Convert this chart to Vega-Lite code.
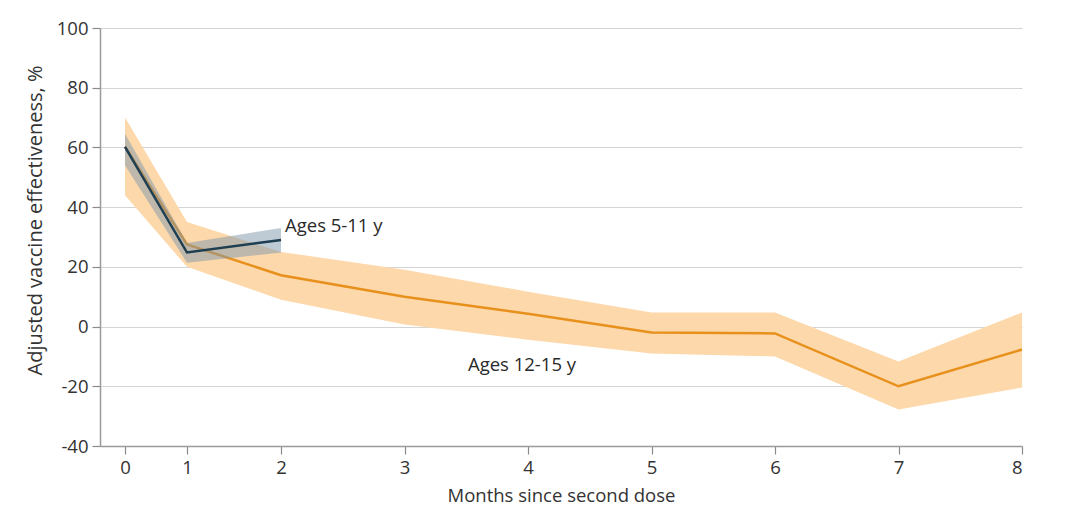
{
  "$schema": "https://vega.github.io/schema/vega-lite/v6.json",
  "autosize": "none",
  "width": 922,
  "height": 418,
  "padding": {"left": 100, "top": 28, "right": 58, "bottom": 69},
  "background": "white",
  "config": {
    "view": {"stroke": null},
    "font": "Open Sans",
    "axis": {
      "labelFont": "Open Sans",
      "titleFont": "Open Sans",
      "labelFontSize": 18.5,
      "titleFontSize": 18.5,
      "labelColor": "#333333",
      "titleColor": "#333333",
      "titleFontWeight": "normal",
      "domainColor": "#9a9a9a",
      "domainWidth": 1.5,
      "tickColor": "#8a8a8a",
      "tickSize": 8,
      "tickWidth": 1.2
    }
  },
  "data": {
    "values": [
      {"group": "Ages 12-15 y", "month": 0, "ve": 60.3, "lower": 44, "upper": 70},
      {"group": "Ages 12-15 y", "month": 1, "ve": 27.5, "lower": 20, "upper": 35},
      {"group": "Ages 12-15 y", "month": 2, "ve": 17.2, "lower": 9, "upper": 25},
      {"group": "Ages 12-15 y", "month": 3, "ve": 10, "lower": 0.7, "upper": 19},
      {"group": "Ages 12-15 y", "month": 4, "ve": 4.3, "lower": -4.4, "upper": 11.7},
      {"group": "Ages 12-15 y", "month": 5, "ve": -2, "lower": -9, "upper": 4.7},
      {"group": "Ages 12-15 y", "month": 6, "ve": -2.3, "lower": -10, "upper": 4.7},
      {"group": "Ages 12-15 y", "month": 7, "ve": -20, "lower": -27.8, "upper": -11.7},
      {"group": "Ages 12-15 y", "month": 8, "ve": -7.7, "lower": -20.4, "upper": 4.7},
      {"group": "Ages 5-11 y", "month": 0, "ve": 60.2, "lower": 54, "upper": 64.6},
      {"group": "Ages 5-11 y", "month": 1, "ve": 24.8, "lower": 21.4, "upper": 28},
      {"group": "Ages 5-11 y", "month": 2, "ve": 29, "lower": 24.8, "upper": 33}
    ]
  },
  "encoding": {
    "x": {
      "field": "month",
      "type": "quantitative",
      "scale": {"domain": [-0.4, 0, 1, 2, 8], "range": [0, 25, 87, 181, 922], "nice": false, "zero": false},
      "axis": {
        "title": "Months since second dose",
        "values": [0, 1, 2, 3, 4, 5, 6, 7, 8],
        "grid": false,
        "labelPadding": 4,
        "titlePadding": 10
      }
    }
  },
  "layer": [
    {
      "transform": [{"filter": "datum.group === 'Ages 12-15 y'"}],
      "mark": {"type": "area", "color": "#FDD8AA", "opacity": 1},
      "encoding": {
        "y": {
          "field": "lower",
          "type": "quantitative",
          "scale": {"domain": [-40, 100], "nice": false, "zero": false},
          "axis": {
            "title": "Adjusted vaccine effectiveness, %",
            "titleFontSize": 20,
            "titleX": -65,
            "titleY": 192,
            "titleBaseline": "middle",
            "values": [-40, -20, 0, 20, 40, 60, 80, 100],
            "labelExpr": "'' + datum.value",
            "gridColor": "#d4d4d4",
            "gridWidth": 1.2,
            "labelPadding": 4
          }
        },
        "y2": {"field": "upper"}
      }
    },
    {
      "transform": [{"filter": "datum.group === 'Ages 12-15 y'"}],
      "mark": {"type": "line", "color": "#E8901C", "strokeWidth": 2.5},
      "encoding": {"y": {"field": "ve", "type": "quantitative"}}
    },
    {
      "transform": [{"filter": "datum.group === 'Ages 5-11 y'"}],
      "mark": {"type": "area", "color": "#7E98AB", "opacity": 0.5},
      "encoding": {
        "y": {"field": "lower", "type": "quantitative"},
        "y2": {"field": "upper"}
      }
    },
    {
      "transform": [{"filter": "datum.group === 'Ages 5-11 y'"}],
      "mark": {"type": "line", "color": "#1E3E52", "strokeWidth": 2.5},
      "encoding": {"y": {"field": "ve", "type": "quantitative"}}
    },
    {
      "transform": [{"filter": "datum.group === 'Ages 5-11 y' && datum.month === 2"}],
      "mark": {"type": "text", "align": "left", "baseline": "middle", "dx": 4, "dy": -14, "fontSize": 18.5, "font": "Open Sans", "color": "#2a2a2a"},
      "encoding": {
        "y": {"field": "ve", "type": "quantitative"},
        "text": {"field": "group"}
      }
    },
    {
      "transform": [{"filter": "datum.group === 'Ages 12-15 y' && datum.month === 4"}],
      "mark": {"type": "text", "align": "center", "baseline": "middle", "dx": -6, "dy": 51, "fontSize": 18.5, "font": "Open Sans", "color": "#2a2a2a"},
      "encoding": {
        "y": {"field": "ve", "type": "quantitative"},
        "text": {"field": "group"}
      }
    }
  ]
}
